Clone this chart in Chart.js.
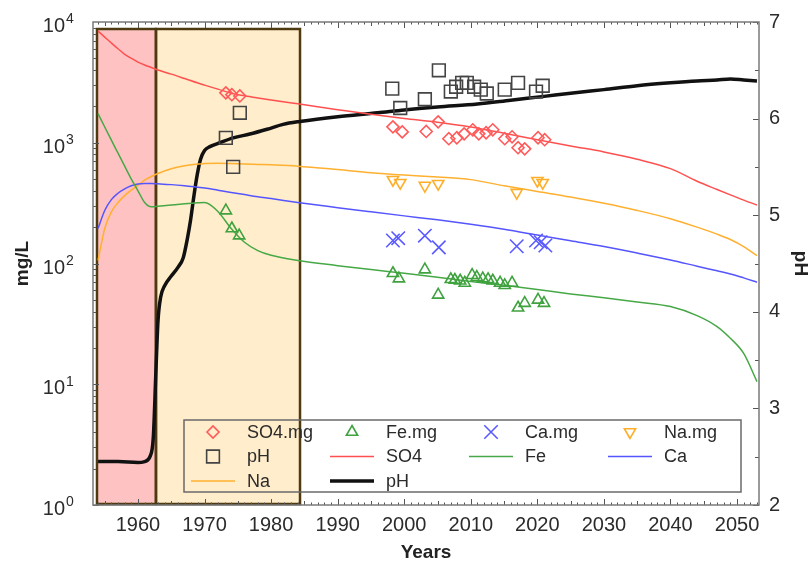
<!DOCTYPE html>
<html>
<head>
<meta charset="utf-8">
<script src="https://cdn.jsdelivr.net/npm/chart.js@4.4.1/dist/chart.umd.min.js"></script>
<style>
  body { margin: 0; background: #fff; }
  #wrap { width: 810px; height: 564px; position: relative; }
</style>
</head>
<body>
<div id="wrap"><canvas id="grafico"></canvas></div>
<script>
// años del modelo (lineas SO4, Fe, Ca, Na)
const anios = [1954, 1955, 1956, 1957, 1958, 1959, 1960, 1961, 1962, 1963, 1965, 1967, 1969, 1970, 1972, 1974, 1976, 1978, 1980, 1984, 1990, 1995, 2000, 2005, 2010, 2015, 2020, 2025, 2030, 2035, 2040, 2044, 2047, 2049, 2051, 2053];
const so4 = [8400, 7500, 6700, 6000, 5400, 5000, 4650, 4400, 4200, 4000, 3700, 3400, 3120, 3000, 2780, 2570, 2450, 2350, 2260, 2100, 1880, 1720, 1590, 1480, 1350, 1200, 1060, 940, 840, 730, 610, 480, 410, 370, 335, 305];
const fe = [1740, 1350, 1050, 820, 640, 500, 400, 320, 295, 298, 305, 312, 318, 320, 270, 195, 150, 128, 117, 106, 96, 89, 83, 77, 71, 66, 61, 56, 52, 48, 44, 37, 30, 24, 18, 10.5];
const ca = [195, 275, 338, 382, 415, 440, 455, 460, 460, 457, 450, 440, 428, 422, 405, 388, 372, 357, 345, 320, 290, 268, 248, 230, 211, 192, 172, 154, 138, 122, 107, 95, 87, 82, 76, 70];
const na = [106, 195, 268, 320, 365, 405, 445, 490, 525, 557, 610, 645, 668, 672, 675, 672, 668, 662, 656, 640, 600, 565, 540, 520, 495, 440, 395, 355, 315, 275, 235, 200, 175, 158, 138, 116];

// pH del modelo
const phAnios = [1954, 1957, 1960, 1961, 1961.8, 1962.3, 1962.7, 1963.0, 1963.4, 1964.0, 1965.0, 1966.0, 1966.8, 1967.4, 1967.9, 1968.4, 1968.9, 1969.4, 1970.0, 1970.8, 1972.3, 1974.3, 1976.8, 1979.4, 1981.8, 1984.3, 1990, 1996, 2000, 2005, 2011, 2016, 2021, 2026, 2030, 2035, 2040, 2044, 2047, 2049, 2051, 2053];
const ph = [2.45, 2.45, 2.44, 2.45, 2.5, 2.7, 3.4, 3.9, 4.15, 4.27, 4.37, 4.46, 4.56, 4.75, 4.95, 5.2, 5.42, 5.58, 5.67, 5.71, 5.75, 5.8, 5.84, 5.89, 5.94, 5.97, 6.02, 6.06, 6.09, 6.12, 6.15, 6.19, 6.23, 6.27, 6.3, 6.34, 6.37, 6.39, 6.4, 6.41, 6.4, 6.39];

// datos medidos
const so4ObsAnios = [1973.2, 1974.1, 1975.3, 1998.3, 1999.7, 2003.3, 2005.1, 2006.7, 2007.9, 2009.0, 2010.3, 2011.2, 2012.3, 2013.3, 2015.1, 2016.2, 2017.1, 2018.1, 2020.1, 2021.1];
const so4Obs = [2590, 2500, 2440, 1355, 1230, 1240, 1490, 1080, 1100, 1185, 1280, 1185, 1210, 1280, 1080, 1120, 910, 890, 1100, 1060];
const feObsAnios = [1973.2, 1974.1, 1975.2, 1998.3, 1999.2, 2003.1, 2005.1, 2007.0, 2007.6, 2008.4, 2009.1, 2010.2, 2010.9, 2011.8, 2012.6, 2013.3, 2014.4, 2015.1, 2016.2, 2017.1, 2018.1, 2020.1, 2021.0];
const feObs = [274, 195, 170, 83, 75, 89, 55, 74, 73, 72, 69, 80, 77, 75, 74, 72, 69, 66, 69, 43, 47, 50, 47];
const caObsAnios = [1998.3, 1999.1, 2003.1, 2005.2, 2016.9, 2019.8, 2020.5, 2021.2];
const caObs = [155, 162, 170, 136, 139, 155, 150, 141];
const naObsAnios = [1998.3, 1999.4, 2003.1, 2005.1, 2016.9, 2020.0, 2020.8];
const naObs = [494, 467, 442, 458, 386, 485, 467];
const phObsAnios = [1973.2, 1974.3, 1975.3, 1998.2, 1999.4, 2003.1, 2005.2, 2007.0, 2007.8, 2008.7, 2009.4, 2010.5, 2011.5, 2012.4, 2015.1, 2017.1, 2019.8, 2020.8];
const phObs = [5.8, 5.5, 6.06, 6.31, 6.11, 6.2, 6.5, 6.28, 6.33, 6.37, 6.37, 6.33, 6.3, 6.26, 6.3, 6.37, 6.28, 6.34];

// periodos sombreados (años) y tope en mg/L
const zonaInicio = [1953.84, 1962.7];
const zonaFin = [1962.7, 1984.34];
const zonaTope = 8750;

// ticks
const tickAnios = [1960, 1970, 1980, 1990, 2000, 2010, 2020, 2030, 2040, 2050];
const tickPh = [2, 3, 4, 5, 6, 7];
const tickExp = [0, 1, 2, 3, 4];

const fuente = '"Liberation Sans", Arial, sans-serif';
const colorTexto = "#2b2b2b";

const pares = (xs, ys) => xs.map((x, i) => ({ x: x, y: ys[i] }));

const puntos = (label, xs, ys, color, estilo, radio, extra) => Object.assign({
  label: label,
  data: pares(xs, ys),
  showLine: false,
  borderColor: color,
  backgroundColor: "rgba(0,0,0,0)",
  pointStyle: estilo,
  pointRadius: radio,
  pointBorderWidth: 1.6,
  pointBorderColor: color,
  pointBackgroundColor: "rgba(0,0,0,0)",
  yAxisID: "y",
  esPunto: true
}, extra || {});

const linea = (label, xs, ys, color, ancho, eje) => ({
  label: label,
  data: pares(xs, ys),
  showLine: true,
  borderColor: color,
  backgroundColor: color,
  borderWidth: ancho,
  pointRadius: 0,
  cubicInterpolationMode: "monotone",
  yAxisID: eje || "y",
  esPunto: false
});

const datasets = [
  puntos("SO4.mg", so4ObsAnios, so4Obs, "#ff5a5a", "rectRot", 6),
  puntos("Fe.mg", feObsAnios, feObs, "#3fa23f", "triangle", 6.5),
  puntos("Ca.mg", caObsAnios, caObs, "#5a5aff", "crossRot", 9.5),
  puntos("Na.mg", naObsAnios, naObs, "#ffae2a", "triangle", 6.5, { pointRotation: 180 }),
  puntos("pH", phObsAnios, phObs, "#444444", "rect", 9, { yAxisID: "y2" }),
  linea("SO4", anios, so4, "#ff5050", 1.5),
  linea("Fe", anios, fe, "#46a846", 1.5),
  linea("Ca", anios, ca, "#5555ff", 1.5),
  linea("Na", anios, na, "#ffb030", 1.5),
  linea("pH", phAnios, ph, "#111111", 3.5, "y2")
];

// zonas de fondo
const zonasPlugin = {
  id: "zonas",
  beforeDatasetsDraw(chart) {
    const { ctx, scales } = chart;
    const rellenos = ["#ffc2c2", "#ffedcb"];
    ctx.save();
    zonaInicio.forEach((ini, i) => {
      const x1 = scales.x.getPixelForValue(ini);
      const x2 = scales.x.getPixelForValue(zonaFin[i]);
      const y1 = scales.y.getPixelForValue(zonaTope);
      const y2 = chart.chartArea.bottom;
      ctx.fillStyle = rellenos[i];
      ctx.fillRect(x1, y1, x2 - x1, y2 - y1);
    });
    ctx.strokeStyle = "#4d3a10";
    ctx.lineWidth = 2.5;
    zonaInicio.forEach((ini, i) => {
      const x1 = scales.x.getPixelForValue(ini);
      const x2 = scales.x.getPixelForValue(zonaFin[i]);
      const y1 = scales.y.getPixelForValue(zonaTope);
      const y2 = chart.chartArea.bottom - 1;
      ctx.strokeRect(x1, y1, x2 - x1, y2 - y1);
    });
    ctx.restore();
  }
};

// marco, ticks interiores, etiquetas 10^n y leyenda
const marcoPlugin = {
  id: "marco",
  afterDraw(chart) {
    const { ctx, chartArea: a, scales } = chart;
    const sx = scales.x, sy = scales.y, sy2 = scales.y2;
    ctx.save();

    // leyenda
    const lx = 184, ly = 420, lw = 557, lh = 72;
    ctx.strokeStyle = "#6a6a6a";
    ctx.lineWidth = 1.5;
    ctx.strokeRect(lx, ly, lw, lh);
    ctx.font = "18px " + fuente;
    ctx.textBaseline = "middle";
    ctx.textAlign = "left";
    chart.data.datasets.forEach((ds, i) => {
      const col = i % 4, fila = Math.floor(i / 4);
      const cx = 213 + col * 139;
      const cy = 432 + fila * 24.5;
      if (ds.esPunto) {
        ctx.strokeStyle = ds.pointBorderColor;
        ctx.fillStyle = "rgba(0,0,0,0)";
        ctx.lineWidth = 1.6;
        Chart.helpers.drawPoint(ctx, {
          pointStyle: ds.pointStyle,
          rotation: ds.pointRotation || 0,
          radius: ds.pointRadius,
          borderWidth: 1.6
        }, cx, cy);
      } else {
        ctx.strokeStyle = ds.borderColor;
        ctx.lineWidth = ds.borderWidth;
        ctx.beginPath();
        ctx.moveTo(cx - 22, cy);
        ctx.lineTo(cx + 22, cy);
        ctx.stroke();
      }
      ctx.fillStyle = colorTexto;
      ctx.fillText(ds.label, cx + 34, cy + 1);
    });

    // ticks
    ctx.strokeStyle = "#555";
    ctx.lineWidth = 1;
    ctx.beginPath();
    for (let yr = Math.ceil(sx.min); yr <= sx.max; yr++) {
      const px = Math.round(sx.getPixelForValue(yr)) + 0.5;
      const largo = yr % 10 === 0 ? 6 : (yr % 5 === 0 ? 4 : 2.5);
      ctx.moveTo(px, a.bottom);
      ctx.lineTo(px, a.bottom - largo);
      ctx.moveTo(px, a.top);
      ctx.lineTo(px, a.top + largo);
    }
    for (let d = 0; d < 4; d++) {
      for (let m = 1; m < 10; m++) {
        const py = Math.round(sy.getPixelForValue(m * Math.pow(10, d))) + 0.5;
        const largo = m === 1 ? 6 : 3;
        ctx.moveTo(a.left, py);
        ctx.lineTo(a.left + largo, py);
      }
    }
    for (let p = 2; p <= 7; p += 0.5) {
      const py = Math.round(sy2.getPixelForValue(p)) + 0.5;
      const largo = p % 1 === 0 ? 6 : 4;
      ctx.moveTo(a.right, py);
      ctx.lineTo(a.right - largo, py);
    }
    ctx.stroke();

    // marco
    ctx.strokeStyle = "#7a7a7a";
    ctx.lineWidth = 1.5;
    ctx.strokeRect(a.left, a.top, a.right - a.left, a.bottom - a.top);

    // etiquetas del eje log
    ctx.fillStyle = colorTexto;
    tickExp.forEach((k) => {
      const py = sy.getPixelForValue(Math.pow(10, k));
      ctx.font = "20px " + fuente;
      ctx.textAlign = "right";
      ctx.textBaseline = "middle";
      ctx.fillText("10", 65, py + 4.5);
      ctx.font = "14px " + fuente;
      ctx.textAlign = "left";
      ctx.fillText(String(k), 66, py - 2.5);
    });
    ctx.restore();
  }
};

const grafico = document.getElementById("grafico");
const chart = new Chart(grafico, {
  type: "line",
  data: { datasets },
  options: {
    responsive: true,
    maintainAspectRatio: false,
    animation: false,
    layout: { padding: { top: 21, left: 0, right: 0, bottom: 0 } },
    plugins: { legend: { display: false }, tooltip: { enabled: false } },
    scales: {
      x: {
        type: "linear",
        min: 1953.24,
        max: 2053.3,
        afterBuildTicks: (s) => { s.ticks = tickAnios.map((v) => ({ value: v })); },
        afterFit: (s) => { s.height = 59; },
        ticks: {
          callback: (v) => String(v),
          font: { family: fuente, size: 20 },
          color: colorTexto,
          padding: 8,
          maxRotation: 0,
          autoSkip: false
        },
        grid: { display: false, drawTicks: false },
        border: { display: false },
        title: {
          display: true,
          text: "Years",
          font: { family: fuente, size: 19, weight: "bold", lineHeight: 1.2 },
          color: "#222",
          padding: { top: 0, bottom: 0 }
        }
      },
      y: {
        type: "logarithmic",
        position: "left",
        min: 1,
        max: 10000,
        afterFit: (s) => { s.width = 93; },
        ticks: { display: false },
        grid: { display: false, drawTicks: false },
        border: { display: false },
        title: {
          display: true,
          text: "mg/L",
          font: { family: fuente, size: 19, weight: "bold", lineHeight: 1.2 },
          color: "#222",
          padding: { top: 11, bottom: 0 }
        }
      },
      y2: {
        type: "linear",
        position: "right",
        min: 2,
        max: 7,
        afterBuildTicks: (s) => { s.ticks = tickPh.map((v) => ({ value: v })); },
        afterFit: (s) => { s.width = 51; },
        ticks: {
          font: { family: fuente, size: 20 },
          color: colorTexto,
          padding: 10
        },
        grid: { display: false, drawTicks: false },
        border: { display: false },
        title: {
          display: true,
          text: "pH",
          font: { family: fuente, size: 19, weight: "bold", lineHeight: 1 },
          color: "#222",
          padding: { top: 0, bottom: 0 }
        }
      }
    }
  },
  plugins: [zonasPlugin, marcoPlugin]
});
</script>
</body>
</html>
